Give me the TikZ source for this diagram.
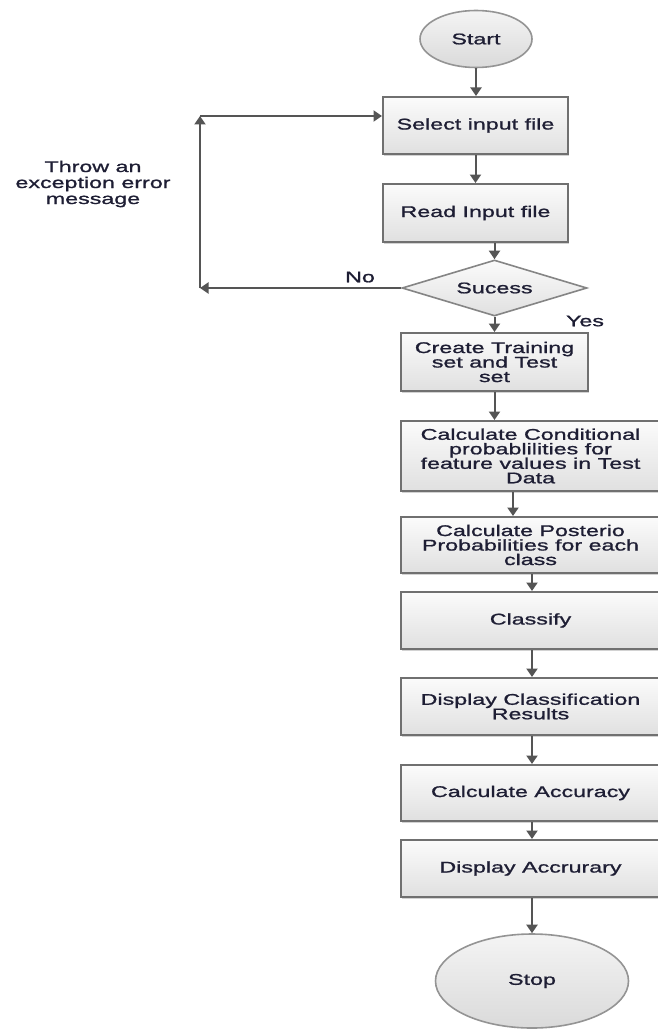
\documentclass[tikz,border=0pt]{standalone}
\usepackage{fontspec}
\setmainfont{Liberation Sans}[FakeStretch=1.5,FakeBold=1.1]
\usetikzlibrary{arrows.meta,shapes.geometric,shadows}

\definecolor{edgegray}{HTML}{707070}
\definecolor{linkgray}{HTML}{555555}
\definecolor{ink}{HTML}{1E1E34}
\definecolor{boxtop}{HTML}{FBFBFB}
\definecolor{boxbot}{HTML}{E0E0E0}
\definecolor{ovaltop}{HTML}{F4F4F4}
\definecolor{ovalbot}{HTML}{DADADA}

\begin{document}
\begin{tikzpicture}[x=1pt,y=-1pt,
  every node/.style={text=ink, font=\fontsize{15.5}{14.5}\selectfont},
  procbox/.style={rectangle, draw=edgegray, line width=2pt,
    top color=boxtop, bottom color=boxbot, inner sep=0pt, align=center,
    drop shadow={shadow xshift=1.2pt, shadow yshift=-1.5pt, opacity=0.35, fill=gray}},
  oval/.style={ellipse, draw=edgegray!75, line width=1.6pt,
    top color=ovaltop, bottom color=ovalbot, inner sep=0pt},
  decision/.style={diamond, aspect=3.3, draw=edgegray!85, line width=1.6pt,
    top color=boxtop, bottom color=boxbot, inner sep=0pt},
  flow/.style={draw=linkgray, line width=2pt,
    -{Triangle[length=8.5pt,width=11pt]}},
  plain/.style={inner sep=0pt}
]
\useasboundingbox (0,0) rectangle (658,1030);
\clip (0,0) rectangle (658,1030);
\fill[white] (0,0) rectangle (658,1030);

% terminals
\node[oval, minimum width=112pt, minimum height=57pt] (start) at (476,39) {Start};
\node[oval, minimum width=193pt, minimum height=94pt] (stop) at (532,981) {Stop};

% upper column
\node[procbox, minimum width=185pt, minimum height=57pt] (sel) at (475.5,125.5) {Select input file};
\node[procbox, minimum width=185pt, minimum height=58pt] (read) at (475.5,213) {Read Input file};
\node[decision, minimum width=185pt, minimum height=56pt] (dia) at (494.5,288) {Sucess};
\node[procbox, minimum width=187pt, minimum height=58pt] (create) at (494.5,362)
  {Create Training\\set and Test\\set};

% lower column
\node[procbox, minimum width=259pt, minimum height=70pt] (cond) at (530.5,456)
  {Calculate Conditional\\probablilities for\\feature values in Test\\Data};
\node[procbox, minimum width=259pt, minimum height=56pt] (post) at (530.5,545)
  {Calculate Posterio\\Probabilities for each\\class};
\node[procbox, minimum width=259pt, minimum height=57pt] (cls) at (530.5,620.5) {Classify};
\node[procbox, minimum width=259pt, minimum height=57pt] (dcls) at (530.5,706.5)
  {Display Classification\\Results};
\node[procbox, minimum width=259pt, minimum height=56pt] (cacc) at (530.5,793) {Calculate Accuracy};
\node[procbox, minimum width=259pt, minimum height=57pt] (dacc) at (530.5,868.5) {Display Accrurary};

% labels
\node[plain] (no) at (360,277) {No};
\node[plain] (yes) at (585,321) {Yes};
\node[plain, align=center, font=\fontsize{15.5}{16}\selectfont] (thr) at (93,184)
  {Throw an\\exception error\\message};

% guide columns for the connectors
\coordinate (xb) at (513,0);
\coordinate (xc) at (532,0);
\coordinate (nb) at (200,288);
\coordinate (nt) at (200,116);

% connectors
\draw[flow] (start.south) -- (start.south |- sel.north);
\draw[flow] (sel.south) -- (read.north);
\draw[flow] (read.south -| dia.north) -- (dia.north);
\draw[flow] (dia.south) -- (create.north);
\draw[flow] (create.south) -- (create.south |- cond.north);
\draw[flow] (cond.south -| xb) -- (post.north -| xb);
\draw[flow] (post.south -| xc) -- (cls.north -| xc);
\draw[flow] (cls.south -| xc) -- (dcls.north -| xc);
\draw[flow] (dcls.south -| xc) -- (cacc.north -| xc);
\draw[flow] (cacc.south -| xc) -- (dacc.north -| xc);
\draw[flow] (dacc.south -| stop.north) -- (stop.north);

% failure loop back to the file selection
\draw[flow] (dia.west) -- (nb);
\draw[flow] (nb) -- (nt);
\draw[flow] (nt) -- (nt -| sel.west);
\end{tikzpicture}
\end{document}
